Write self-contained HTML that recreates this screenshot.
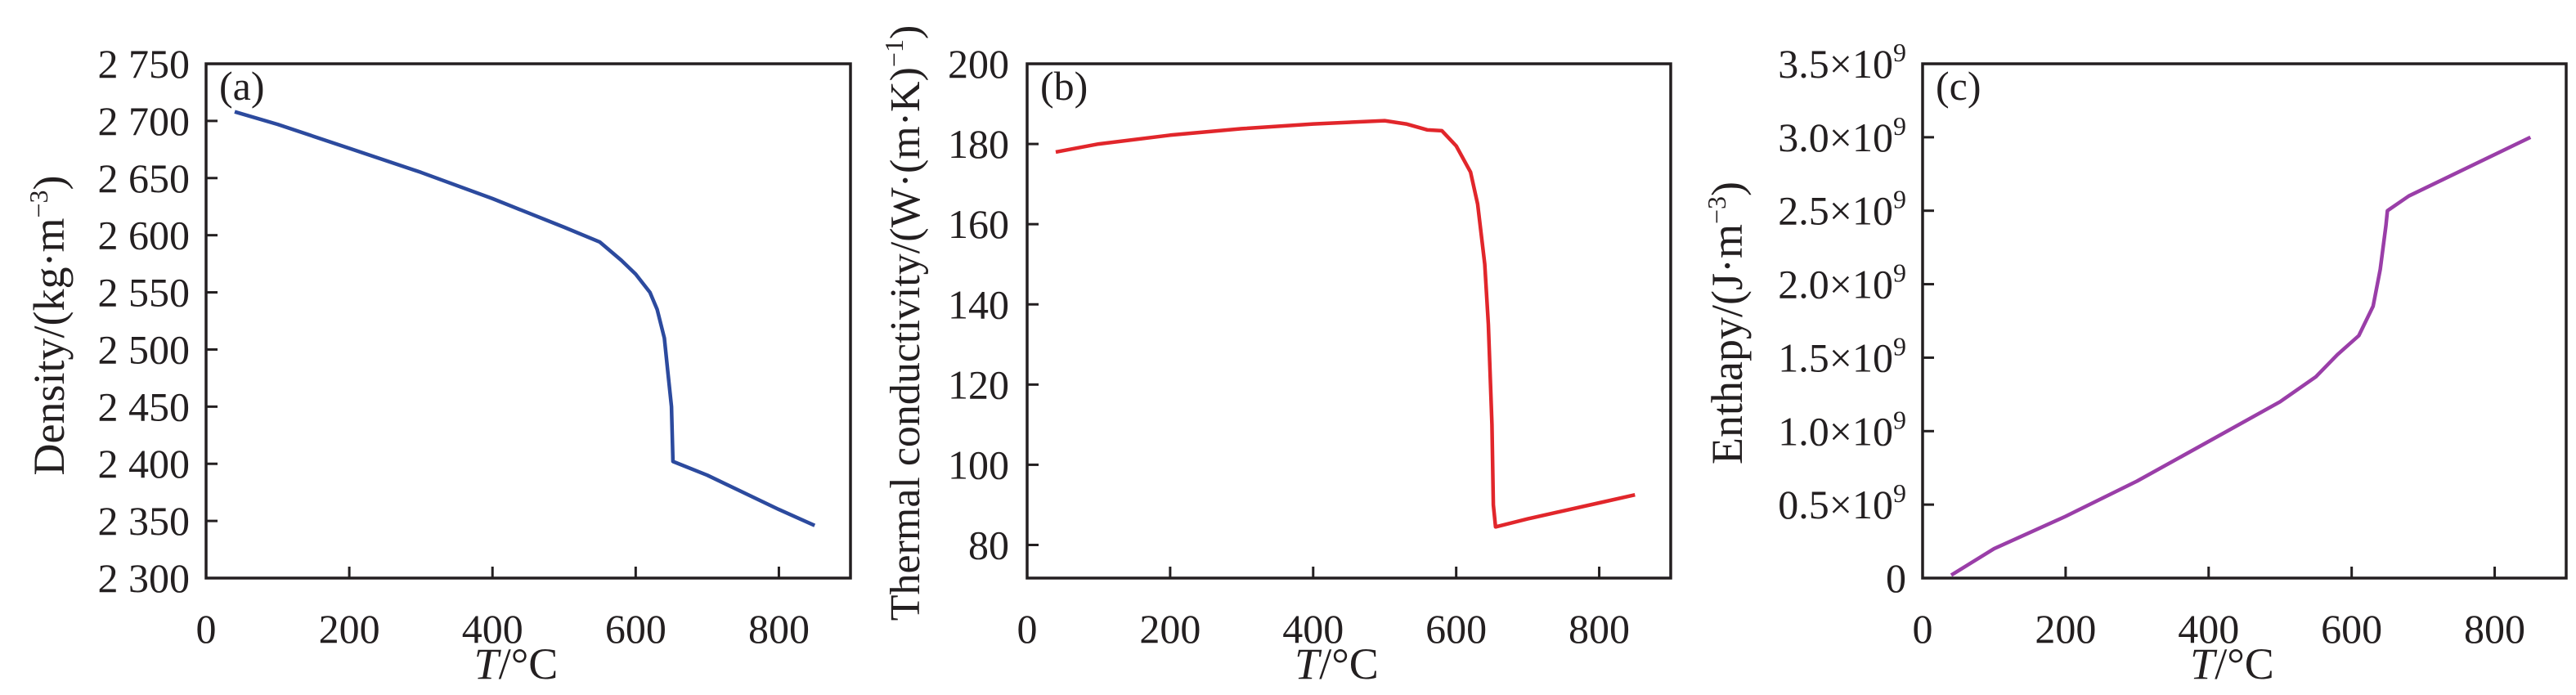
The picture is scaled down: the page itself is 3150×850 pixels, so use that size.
<!DOCTYPE html>
<html><head><meta charset="utf-8">
<style>
html,body{margin:0;padding:0;background:#fff;}
svg{display:block;font-family:"Liberation Serif",serif;}
</style></head>
<body>
<svg id="chart" width="3150" height="850" viewBox="0 0 3150 850" xmlns="http://www.w3.org/2000/svg"></svg>
<script>
// Shared x data (temperature, °C)
const xTicks = [0, 200, 400, 600, 800];

// Panel (a) density
const densT = [40,100,200,300,400,500,550,580,600,620,630,640,645,650,652,700,800,850];
const densV = [2708,2697,2676,2655,2632,2607,2594,2578,2566,2550,2535,2510,2480,2450,2402,2390,2360,2346];
const densTicks = [2300,2350,2400,2450,2500,2550,2600,2650,2700,2750];
const densTickLabels = ["2 300","2 350","2 400","2 450","2 500","2 550","2 600","2 650","2 700","2 750"];

// Panel (b) thermal conductivity
const condT = [40,100,200,300,400,500,530,560,580,600,620,630,640,645,650,652,655,700,800,850];
const condV = [178,180,182.2,183.8,185,185.8,185,183.5,183.3,179.5,173,165,150,135,110,90,84.5,86.5,90.5,92.5];
const condTicks = [80,100,120,140,160,180,200];
const condTickLabels = ["80","100","120","140","160","180","200"];

// Panel (c) enthalpy (×10^9)
const enthT = [40,100,200,300,400,500,550,580,610,630,640,648,650,680,850];
const enthV = [0.02,0.2,0.42,0.66,0.93,1.2,1.37,1.52,1.65,1.85,2.1,2.4,2.5,2.6,3.0];
const enthTicks = [0,0.5,1.0,1.5,2.0,2.5,3.0,3.5];
const enthTickLabels = ["0","0.5","1.0","1.5","2.0","2.5","3.0","3.5"];

const NS = "http://www.w3.org/2000/svg";
const svg = document.getElementById("chart");
function mk(tag, attrs, parent){
  const e = document.createElementNS(NS, tag);
  for (const k in attrs) e.setAttribute(k, attrs[k]);
  (parent||svg).appendChild(e);
  return e;
}

function panel(cfg){
  const g = mk("g", {});
  
  
  const L = cfg.left, R = cfg.right, T = 78, B = 707;
  const xs = v => L + (v - 0) / 900 * (R - L);
  const ys = v => cfg.yTop + (cfg.yMax - v) / (cfg.yMax - cfg.yMin) * (cfg.yBot - cfg.yTop);

  const frame = mk("rect", {x:L, y:T, width:R-L, height:B-T, fill:"none", stroke:"#231f20", "stroke-width":3.5}, g);
  
  

  // x ticks
  xTicks.forEach(v => {
    const x = xs(v);
    const t = mk("line", {x1:x, y1:B, x2:x, y2:B-14, stroke:"#231f20", "stroke-width":3}, g);
    
    
    const lb = mk("text", {x:x, y:786, "font-size":50, "text-anchor":"middle", fill:"#231f20"}, g);
    lb.textContent = String(v);
    
    
  });
  // y ticks
  cfg.yTicks.forEach((v, i) => {
    const y = ys(v);
    const t = mk("line", {x1:L, y1:y, x2:L+14, y2:y, stroke:"#231f20", "stroke-width":3}, g);
    
    
    const lb = mk("text", {x:cfg.labelRight, y:y+17, "font-size":50, "text-anchor":"end", fill:"#231f20"}, g);
    
    
    if (cfg.sci && v !== 0) {
      lb.textContent = cfg.yLabels[i] + "\u00d710";
      const sup = mk("tspan", {"font-size":32, dy:-20}, lb);
      sup.textContent = "9";
      lb.setAttribute("x", cfg.labelRight);
    } else {
      lb.textContent = cfg.yLabels[i];
    }
  });
  // series
  const d = cfg.xData.map((v, i) => (i ? "L" : "M") + xs(v).toFixed(1) + "," + ys(cfg.yData[i]).toFixed(1)).join(" ");
  const p = mk("path", {d:d, fill:"none", stroke:cfg.color, "stroke-width":4.5, "stroke-linejoin":"round"}, g);
  
  

  // panel letter
  const pl = mk("text", {x:L+16, y:122, "font-size":50, fill:"#231f20"}, g);
  pl.textContent = cfg.letter;
  
  

  // x title
  const xt = mk("text", {x:(L+R)/2 - 15, y:830, "font-size":54, "text-anchor":"middle", fill:"#231f20"}, g);
  
  
  const ti = mk("tspan", {"font-style":"italic"}, xt); ti.textContent = "T";
  const tr = mk("tspan", {}, xt); tr.textContent = "/\u00b0C";

  // y title
  const yt = mk("text", {x:0, y:0, "font-size":cfg.ytSize, "text-anchor":"middle", fill:"#231f20",
    transform:"translate(" + cfg.ytX + "," + cfg.ytY + ") rotate(-90)"}, g);
  
  
  const a = mk("tspan", {}, yt); a.textContent = cfg.ytMain;
  const s = mk("tspan", {"font-size":32, dy:-20}, yt); s.textContent = cfg.ytSup;
  const c = mk("tspan", {dy:20}, yt); c.textContent = ")";
}

panel({name:"density-panel", letter:"(a)", left:252, right:1040, labelRight:232,
  yMin:2300, yMax:2750, yTop:78, yBot:707, yTicks:densTicks, yLabels:densTickLabels,
  xData:densT, yData:densV, color:"#2c4a9e", seriesName:"density-line",
  ytX:78, ytY:398, ytSize:54, ytMain:"Density/(kg\u00b7m", ytSup:"\u22123"});

panel({name:"thermal-conductivity-panel", letter:"(b)", left:1256, right:2043, labelRight:1234,
  yMin:80, yMax:200, yTop:78, yBot:666.5, yTicks:condTicks, yLabels:condTickLabels,
  xData:condT, yData:condV, color:"#e1262b", seriesName:"conductivity-line",
  ytX:1124, ytY:395, ytSize:52, ytMain:"Thermal conductivity/(W\u00b7(m\u00b7K)", ytSup:"\u22121"});

panel({name:"enthalpy-panel", letter:"(c)", left:2351, right:3138, labelRight:2331, sci:true,
  yMin:0, yMax:3.5, yTop:78, yBot:707, yTicks:enthTicks, yLabels:enthTickLabels,
  xData:enthT, yData:enthV, color:"#9a3ea8", seriesName:"enthalpy-line",
  ytX:2130, ytY:395, ytSize:54, ytMain:"Enthapy/(J\u00b7m", ytSup:"\u22123"});
</script>
</body></html>
